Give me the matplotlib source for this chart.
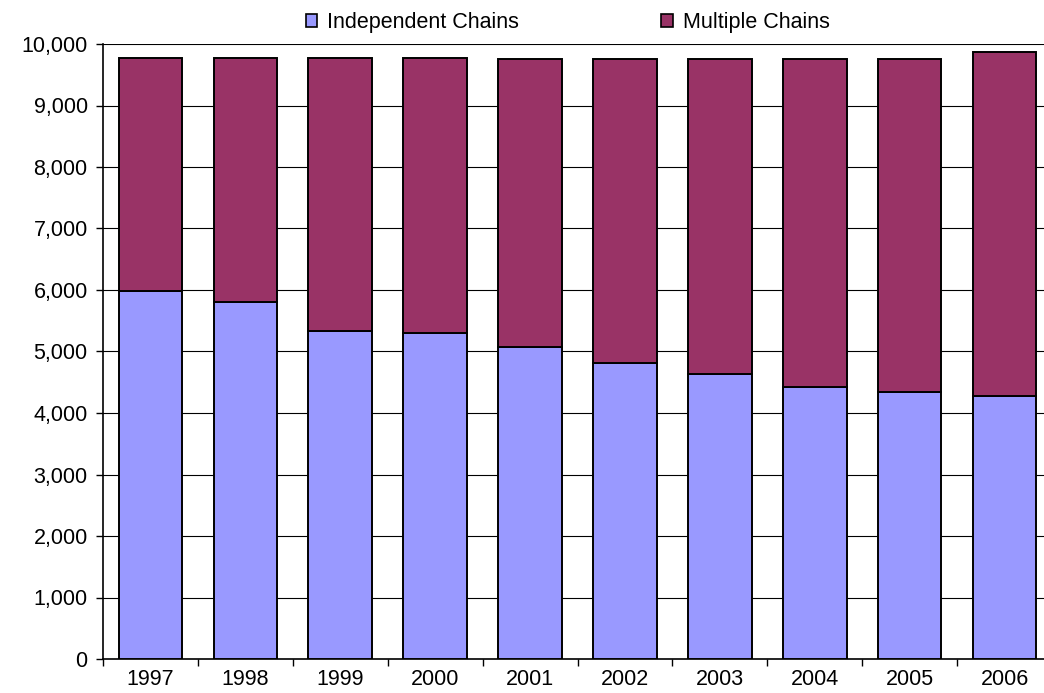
import numpy as np
import matplotlib
matplotlib.use("Agg")
import matplotlib.pyplot as plt
from matplotlib.patches import Patch
from matplotlib.ticker import FuncFormatter, FixedLocator

plt.rcParams['font.family'] = ['Liberation Sans', 'DejaVu Sans']

# data
years = ['1997', '1998', '1999', '2000', '2001', '2002', '2003', '2004', '2005', '2006']
independent = [5985, 5800, 5333, 5300, 5080, 4808, 4640, 4418, 4341, 4276]
totals = [9777, 9777, 9777, 9777, 9756, 9756, 9756, 9756, 9756, 9865]
multiple = [t - i for t, i in zip(totals, independent)]

c_ind = '#9999FF'
c_mul = '#993366'

fig = plt.figure(figsize=(10.44, 6.93), dpi=100)
ax = fig.add_axes([103 / 1044, 34 / 693, 949 / 1044, 615 / 693])

x = np.arange(len(years))
ax.bar(x, independent, width=0.67, color=c_ind, edgecolor='black', linewidth=1.4, zorder=3)
ax.bar(x, multiple, width=0.67, bottom=independent, color=c_mul, edgecolor='black',
       linewidth=1.4, zorder=3)

ax.set_xlim(-0.5, len(years) - 0.5)
ax.set_ylim(0, 10000)
ax.set_yticks(np.arange(0, 10001, 1000))
ax.yaxis.set_major_formatter(FuncFormatter(lambda v, p: f'{int(v):,}'))
ax.yaxis.grid(True, color='black', linewidth=0.8, zorder=0)
ax.set_axisbelow(True)

ax.set_xticks(x)
ax.set_xticklabels(years)
ax.xaxis.set_minor_locator(FixedLocator(np.arange(-0.5, len(years), 1.0)))
ax.tick_params(axis='x', which='major', length=0, pad=7, labelsize=15.5)
ax.tick_params(axis='x', which='minor', length=5, width=1, direction='out')
ax.tick_params(axis='y', length=5, width=1, direction='out', pad=6, labelsize=15.5)

for s in ['right', 'top']:
    ax.spines[s].set_visible(False)
for s in ['left', 'bottom']:
    ax.spines[s].set_linewidth(1.2)

handles = [Patch(facecolor=c_ind, edgecolor='black', linewidth=1.2),
           Patch(facecolor=c_mul, edgecolor='black', linewidth=1.2)]
fig.legend(handles, ['Independent Chains', 'Multiple Chains'], loc='center',
           bbox_to_anchor=(0.5436, 0.968), ncol=2, frameon=False, fontsize=15.5,
           handlelength=0.55, handleheight=0.55, handletextpad=0.45, columnspacing=6.6)

fig.savefig('out.png', dpi=100)
